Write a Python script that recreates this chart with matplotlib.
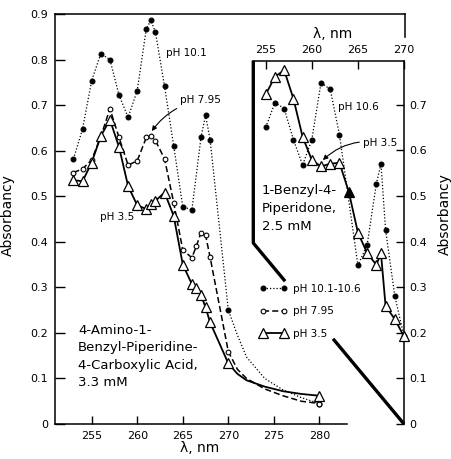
import matplotlib

matplotlib.use("Agg")
import matplotlib.pyplot as plt
import numpy as np
from matplotlib.lines import Line2D
from matplotlib.ticker import FuncFormatter

# Main panel: 4-amino-1-benzyl-piperidine-4-carboxylic acid, 3.3 mM
MAIN_WL_101 = [253, 254, 255, 256, 257, 258, 259, 260, 261, 261.5, 262, 263,
               264, 265, 266, 267, 267.5, 268, 270, 280]
MAIN_ABS_101 = [0.582, 0.648, 0.754, 0.813, 0.800, 0.722, 0.673, 0.732, 0.868,
                0.886, 0.860, 0.741, 0.611, 0.477, 0.470, 0.629, 0.678, 0.624,
                0.250, 0.045]
MAIN_WL_795 = [253, 254, 255, 256, 257, 258, 259, 260, 261, 261.5, 262, 263,
               264, 265, 266, 266.5, 267, 267.5, 268, 270, 280]
MAIN_ABS_795 = [0.552, 0.560, 0.580, 0.631, 0.692, 0.629, 0.568, 0.578, 0.629,
                0.633, 0.622, 0.582, 0.486, 0.382, 0.365, 0.391, 0.420, 0.415,
                0.366, 0.159, 0.045]
MAIN_WL_35 = [253, 254, 255, 256, 257, 258, 259, 260, 261, 261.5, 262, 263,
              264, 265, 266, 266.5, 267, 267.5, 268, 270, 280]
MAIN_ABS_35 = [0.535, 0.533, 0.574, 0.632, 0.668, 0.608, 0.522, 0.480, 0.472,
               0.483, 0.490, 0.508, 0.457, 0.350, 0.307, 0.298, 0.283, 0.256,
               0.223, 0.133, 0.062]

# curve between 270 and 280 nm (drawn, no measured points)
TAIL_WL = [271, 272, 274, 276, 278]
TAIL_101 = [0.195, 0.147, 0.100, 0.075, 0.058]
TAIL_795 = [0.120, 0.100, 0.077, 0.062, 0.050]
TAIL_35 = [0.110, 0.096, 0.082, 0.072, 0.066]

# Inset: 1-benzyl-4-piperidone, 2.5 mM
INSET_WL_106 = [255, 256, 257, 258, 259, 260, 261, 262, 263, 265, 266, 267,
                267.5, 268, 269, 270]
INSET_ABS_106 = [0.651, 0.705, 0.692, 0.624, 0.568, 0.624, 0.749, 0.734, 0.634,
                 0.348, 0.393, 0.527, 0.571, 0.426, 0.281, 0.192]
INSET_WL_35 = [255, 256, 257, 258, 259, 260, 261, 262, 263, 264, 265, 266, 267,
               267.5, 268, 269, 270]
INSET_ABS_35 = [0.723, 0.762, 0.776, 0.714, 0.630, 0.579, 0.565, 0.571, 0.573,
                0.510, 0.420, 0.375, 0.349, 0.375, 0.259, 0.230, 0.192]
INSET_FILLED_WL = 264

DOTTED = (0, (1, 1.6))
DASHED = (0, (4, 2))
STYLES = {
    "10.1": dict(ls=DOTTED, lw=0.9, marker="o", ms=3.5, mfc="black", mec="black"),
    "7.95": dict(ls=DASHED, lw=1.1, marker="o", ms=3.4, mfc="white", mec="black", mew=0.8),
    "3.5": dict(ls="-", lw=1.3, marker="^", ms=6.5, mfc="white", mec="black", mew=0.9),
}

plt.rcParams.update({
    "font.family": ["DejaVu Sans"],
    "font.size": 8,
    "axes.linewidth": 1.1,
})

fmt = FuncFormatter(lambda v, _: "0" if abs(v) < 1e-9 else f"{v:.1f}")


def plot_series(axis, wl, ab, style, tail_wl=None, tail_ab=None):
    """Line through points (plus optional drawn tail), markers only on points."""
    line_wl, line_ab = list(wl), list(ab)
    if tail_wl is not None:
        pairs = sorted(zip(line_wl + list(tail_wl), line_ab + list(tail_ab)))
        line_wl, line_ab = [p[0] for p in pairs], [p[1] for p in pairs]
    axis.plot(line_wl, line_ab, color="black", ls=style["ls"], lw=style["lw"],
              clip_on=False, zorder=3)
    axis.plot(wl, ab, ls="none", marker=style["marker"], ms=style["ms"],
              mfc=style["mfc"], mec=style["mec"], mew=style.get("mew", 0.8),
              clip_on=False, zorder=4)


fig = plt.figure(figsize=(4.51, 4.59), dpi=100)
ax = fig.add_axes([55 / 451, 1 - 424 / 459, 350 / 451, 410 / 459])
ax.set_xlim(250.97, 289.4)
ax.set_ylim(0, 0.9)
ax.spines["right"].set_bounds(0.85, 0.9)
ax.spines["bottom"].set_bounds(250.97, 283)
ax.set_xticks([255, 260, 265, 270, 275, 280])
ax.set_yticks(np.arange(0, 0.91, 0.1))
ax.yaxis.set_major_formatter(fmt)
ax.tick_params(direction="in", length=6, width=1.0, pad=5)
ax.tick_params(axis="y", length=7)
ax.set_ylabel("Absorbancy", fontsize=10)
ax.yaxis.set_label_coords(-0.114, 0.51)
ax.set_xlabel("λ, nm", fontsize=10)
ax.xaxis.set_label_coords(0.414, -0.042)

plot_series(ax, MAIN_WL_101, MAIN_ABS_101, STYLES["10.1"], TAIL_WL, TAIL_101)
plot_series(ax, MAIN_WL_795, MAIN_ABS_795, STYLES["7.95"], TAIL_WL, TAIL_795)
plot_series(ax, MAIN_WL_35, MAIN_ABS_35, STYLES["3.5"], TAIL_WL, TAIL_35)

ax.text(263.2, 0.814, "pH 10.1", fontsize=7.5, va="center")
ax.text(255.9, 0.454, "pH 3.5", fontsize=7.5, va="center")
ax.annotate("pH 7.95", xy=(261.6, 0.643), xytext=(264.7, 0.711), fontsize=7.5,
            va="center", ha="left",
            arrowprops=dict(arrowstyle="-|>", lw=0.8, color="black",
                            mutation_scale=7, shrinkA=1, shrinkB=0,
                            connectionstyle="arc3,rad=0.2"))
ax.text(253.5, 0.219, "4-Amino-1-\nBenzyl-Piperidine-\n4-Carboxylic Acid,\n3.3 mM",
        fontsize=9.5, va="top", ha="left", linespacing=1.42)

# inset panel
ins = fig.add_axes([253.3 / 451, 1 - 424 / 459, (404 - 253.3) / 451,
                    (424 - 60.7) / 459])
ins.patch.set_alpha(0)
ins.set_xlim(253.65, 270)
ins.set_ylim(0, 0.797)
ins.spines["left"].set_visible(False)
ins.spines["bottom"].set_visible(False)
ins.xaxis.tick_top()
ins.xaxis.set_label_position("top")
ins.yaxis.tick_right()
ins.yaxis.set_label_position("right")
ins.set_xticks([255, 260, 265, 270])
ins.set_yticks(np.arange(0, 0.71, 0.1))
ins.yaxis.set_major_formatter(fmt)
ins.tick_params(direction="in", length=6, width=1.0, pad=4)
ins.set_xlabel("λ, nm", fontsize=10)
ins.xaxis.set_label_coords(0.529, 1.062)
ins.set_ylabel("Absorbancy", fontsize=10)
ins.yaxis.set_label_coords(1.226, 0.578)

# thick broken left boundary of the inset (collinear diagonal, broken by legend)
x0, x1 = ins.get_xlim()
y_break = 0.397
slope = -y_break / (x1 - x0)
ins.plot([x0, x0, 257.1], [ins.get_ylim()[1], y_break, y_break + slope * (257.1 - x0)],
         color="black", lw=2.4, solid_capstyle="butt", clip_on=False, zorder=2)
ins.plot([262.3, x1], [y_break + slope * (262.3 - x0), 0],
         color="black", lw=2.4, solid_capstyle="butt", clip_on=False, zorder=2)

plot_series(ins, INSET_WL_106, INSET_ABS_106, STYLES["10.1"])
plot_series(ins, INSET_WL_35, INSET_ABS_35, STYLES["3.5"])
filled = INSET_WL_35.index(INSET_FILLED_WL)
ins.plot([INSET_WL_35[filled]], [INSET_ABS_35[filled]], ls="none", marker="^",
         ms=6, color="black", zorder=5)

ins.text(262.85, 0.696, "pH 10.6", fontsize=7.5, va="center")
ins.annotate("pH 3.5", xy=(261.2, 0.579), xytext=(265.6, 0.617), fontsize=7.5,
             va="center", ha="left",
             arrowprops=dict(arrowstyle="-|>", lw=0.8, color="black",
                             mutation_scale=7, shrinkA=1, shrinkB=0,
                             connectionstyle="arc3,rad=0.25"))
ins.text(254.6, 0.527, "1-Benzyl-4-\nPiperidone,\n2.5 mM", fontsize=9.5,
         va="top", ha="left", linespacing=1.5)

handles = [
    Line2D([], [], color="black", ls=STYLES[k]["ls"], lw=STYLES[k]["lw"],
           marker=STYLES[k]["marker"], ms=STYLES[k]["ms"], mfc=STYLES[k]["mfc"],
           mec=STYLES[k]["mec"], mew=STYLES[k].get("mew", 0.8))
    for k in ("10.1", "7.95", "3.5")
]
fig.legend(handles, ["pH 10.1-10.6", "pH 7.95", "pH 3.5"], loc="upper left",
           bbox_to_anchor=(260 / 451, 1 - 284 / 459), frameon=False,
           fontsize=7.5, numpoints=2, handlelength=2.6, handletextpad=0.6,
           labelspacing=1.2, borderpad=0, borderaxespad=0)

fig.savefig("out.png", dpi=100)
